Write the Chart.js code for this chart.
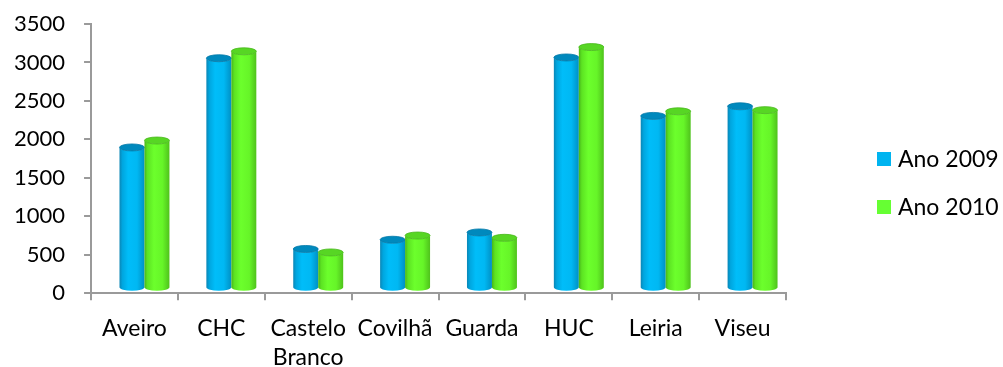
<!DOCTYPE html>
<html>
<head>
<meta charset="utf-8">
<script src="https://cdn.jsdelivr.net/npm/chart.js@4/dist/chart.umd.min.js"></script>
<style>
  html, body { margin: 0; padding: 0; background: #ffffff; }
  #wrap { width: 1003px; height: 367px; position: relative; }
</style>
</head>
<body>
<div id="wrap"><canvas id="chart"></canvas></div>
<script>
// Hospital units (x categories)
const categories = ['Aveiro', 'CHC', ['Castelo', 'Branco'], 'Covilhã', 'Guarda', 'HUC', 'Leiria', 'Viseu'];
// Series
const seriesNames = ['Ano 2009', 'Ano 2010'];
const ano2009 = [1830, 2990, 510, 630, 725, 3000, 2240, 2365];
const ano2010 = [1920, 3080, 465, 685, 655, 3135, 2300, 2315];
// Value axis
const yMin = 0;
const yMax = 3500;
const yStep = 500;

const FONT = 'Lato, "Open Sans", sans-serif';
const AXIS_GREY = '#9a9a9a';

// Cylinder shading for each series
const palettes = [
  { solid: '#00b4f0', top: '#0089bd', rim: '#0079a8',
    stops: [[0, '#0a86b6'], [0.12, '#00a6df'], [0.35, '#00bdf9'], [0.7, '#00b8f3'], [1, '#0090c4']] },
  { solid: '#66ff33', top: '#57d624', rim: '#47b81a',
    stops: [[0, '#48b51a'], [0.12, '#5ce322'], [0.38, '#6cff2c'], [0.72, '#66f528'], [1, '#4fc21c']] }
];

// Perspective offset of the 3D floor relative to the axes
const depth = { dx: 10, dy: -5, ry: 3.5 };

const cylinderPlugin = {
  id: 'cylinders',
  beforeDatasetsDraw(chart) {
    const ctx = chart.ctx;
    ctx.save();
    chart.data.datasets.forEach((ds, i) => {
      const meta = chart.getDatasetMeta(i);
      if (meta.hidden) return;
      const pal = palettes[i];
      meta.data.forEach(bar => {
        const { x, y, base, width } = bar.getProps(['x', 'y', 'base', 'width'], true);
        const rx = width / 2;
        const cx = x + depth.dx;
        const l = cx - rx, r = cx + rx;
        const top = y + depth.dy, bot = base + depth.dy;
        const ry = depth.ry;

        const g = ctx.createLinearGradient(l, 0, r, 0);
        pal.stops.forEach(s => g.addColorStop(s[0], s[1]));
        ctx.beginPath();
        ctx.moveTo(l, top);
        ctx.lineTo(l, bot);
        ctx.ellipse(cx, bot, rx, ry, 0, Math.PI, 0, true);
        ctx.lineTo(r, top);
        ctx.ellipse(cx, top, rx, ry, 0, 0, Math.PI, false);
        ctx.closePath();
        ctx.fillStyle = g;
        ctx.fill();

        ctx.beginPath();
        ctx.ellipse(cx, top, rx, ry, 0, 0, Math.PI * 2);
        ctx.fillStyle = pal.top;
        ctx.fill();
        ctx.lineWidth = 0.8;
        ctx.strokeStyle = pal.rim;
        ctx.stroke();
      });
    });
    ctx.restore();
    return false;
  }
};

// Legend at the right, built from the dataset labels and colours
const sideLegendPlugin = {
  id: 'sideLegend',
  afterDraw(chart) {
    const ctx = chart.ctx;
    ctx.save();
    ctx.font = '23px ' + FONT;
    ctx.textBaseline = 'middle';
    ctx.textAlign = 'left';
    chart.data.datasets.forEach((ds, i) => {
      const yc = 159 + i * 48;
      ctx.fillStyle = ds.backgroundColor;
      ctx.fillRect(877, yc - 7, 14, 14);
      ctx.fillStyle = '#000000';
      ctx.fillText(ds.label, 898, yc + 1);
    });
    ctx.restore();
  }
};

new Chart(document.getElementById('chart'), {
  type: 'bar',
  data: {
    labels: categories,
    datasets: [
      { label: seriesNames[0], data: ano2009, backgroundColor: palettes[0].solid },
      { label: seriesNames[1], data: ano2010, backgroundColor: palettes[1].solid }
    ]
  },
  options: {
    responsive: true,
    maintainAspectRatio: false,
    animation: false,
    categoryPercentage: 0.575,
    barPercentage: 1.0,
    layout: { padding: { left: -5, right: 217, top: 24, bottom: -19 } },
    plugins: {
      legend: { display: false },
      tooltip: { enabled: false }
    },
    scales: {
      x: {
        offset: true,
        grid: { offset: true, drawOnChartArea: false, drawTicks: true, tickLength: 7, color: AXIS_GREY, lineWidth: 2 },
        border: { color: AXIS_GREY, width: 2 },
        ticks: { color: '#000000', padding: 13, maxRotation: 0, autoSkip: false,
                 font: { family: FONT, size: 23, lineHeight: 1.3 } }
      },
      y: {
        min: yMin,
        max: yMax,
        // top space comes from layout.padding.top only
        afterFit(scale) { scale.paddingTop = 0; },
        grid: { drawOnChartArea: false, drawTicks: true, tickLength: 7, color: AXIS_GREY, lineWidth: 2 },
        border: { color: AXIS_GREY, width: 2 },
        ticks: { stepSize: yStep, color: '#000000', padding: 19,
                 callback: v => String(v),
                 font: { family: FONT, size: 22 } }
      }
    }
  },
  plugins: [cylinderPlugin, sideLegendPlugin]
});
</script>
</body>
</html>
